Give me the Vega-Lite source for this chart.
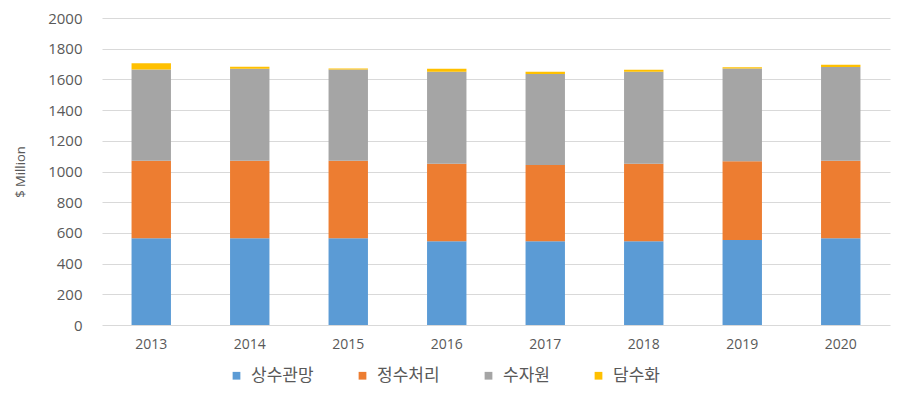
{
  "$schema": "https://vega.github.io/schema/vega-lite/v6.json",
  "autosize": {"type": "none"},
  "padding": {"left": 102, "top": 18, "right": 14, "bottom": 75},
  "width": 788,
  "height": 307,
  "background": "white",
  "config": {
    "view": {"stroke": null},
    "font": "Open Sans"
  },
  "data": {
    "values": [
      {"year": "2013", "cat": "상수관망", "order": 1, "value": 565},
      {"year": "2013", "cat": "정수처리", "order": 2, "value": 505},
      {"year": "2013", "cat": "수자원", "order": 3, "value": 595},
      {"year": "2013", "cat": "담수화", "order": 4, "value": 40},
      {"year": "2014", "cat": "상수관망", "order": 1, "value": 565},
      {"year": "2014", "cat": "정수처리", "order": 2, "value": 505},
      {"year": "2014", "cat": "수자원", "order": 3, "value": 600},
      {"year": "2014", "cat": "담수화", "order": 4, "value": 12},
      {"year": "2015", "cat": "상수관망", "order": 1, "value": 565},
      {"year": "2015", "cat": "정수처리", "order": 2, "value": 505},
      {"year": "2015", "cat": "수자원", "order": 3, "value": 595},
      {"year": "2015", "cat": "담수화", "order": 4, "value": 6},
      {"year": "2016", "cat": "상수관망", "order": 1, "value": 545},
      {"year": "2016", "cat": "정수처리", "order": 2, "value": 505},
      {"year": "2016", "cat": "수자원", "order": 3, "value": 600},
      {"year": "2016", "cat": "담수화", "order": 4, "value": 20},
      {"year": "2017", "cat": "상수관망", "order": 1, "value": 545},
      {"year": "2017", "cat": "정수처리", "order": 2, "value": 497},
      {"year": "2017", "cat": "수자원", "order": 3, "value": 593},
      {"year": "2017", "cat": "담수화", "order": 4, "value": 15},
      {"year": "2018", "cat": "상수관망", "order": 1, "value": 545},
      {"year": "2018", "cat": "정수처리", "order": 2, "value": 505},
      {"year": "2018", "cat": "수자원", "order": 3, "value": 600},
      {"year": "2018", "cat": "담수화", "order": 4, "value": 13},
      {"year": "2019", "cat": "상수관망", "order": 1, "value": 553},
      {"year": "2019", "cat": "정수처리", "order": 2, "value": 513},
      {"year": "2019", "cat": "수자원", "order": 3, "value": 605},
      {"year": "2019", "cat": "담수화", "order": 4, "value": 8},
      {"year": "2020", "cat": "상수관망", "order": 1, "value": 565},
      {"year": "2020", "cat": "정수처리", "order": 2, "value": 505},
      {"year": "2020", "cat": "수자원", "order": 3, "value": 610},
      {"year": "2020", "cat": "담수화", "order": 4, "value": 15}
    ]
  },
  "mark": {"type": "bar"},
  "encoding": {
    "x": {
      "field": "year",
      "type": "ordinal",
      "scale": {"paddingInner": 0.6, "paddingOuter": 0.3},
      "axis": {
        "title": null,
        "labelAngle": 0,
        "domain": false,
        "ticks": false,
        "labelPadding": 12,
        "labelFontSize": 14,
        "labelColor": "#595959",
        "labelFont": "Open Sans"
      }
    },
    "y": {
      "field": "value",
      "type": "quantitative",
      "stack": "zero",
      "scale": {"domain": [0, 2000], "nice": false},
      "axis": {
        "title": "$ Million",
        "titleFontSize": 13,
        "titleFontWeight": "normal",
        "titleColor": "#595959",
        "titleFont": "Open Sans",
        "titlePadding": 20,
        "format": "d",
        "values": [0, 200, 400, 600, 800, 1000, 1200, 1400, 1600, 1800, 2000],
        "domain": false,
        "ticks": false,
        "labelPadding": 20,
        "labelFontSize": 15,
        "labelColor": "#595959",
        "labelFont": "Open Sans",
        "gridColor": "#D9D9D9",
        "gridWidth": 1
      }
    },
    "color": {
      "field": "cat",
      "type": "nominal",
      "sort": ["상수관망", "정수처리", "수자원", "담수화"],
      "scale": {
        "domain": ["상수관망", "정수처리", "수자원", "담수화"],
        "range": ["#5B9BD5", "#ED7D31", "#A5A5A5", "#FFC000"]
      },
      "legend": {
        "title": null,
        "orient": "none",
        "direction": "horizontal",
        "legendX": 126,
        "legendY": 349,
        "symbolType": "square",
        "symbolSize": 60,
        "symbolStrokeWidth": 0,
        "labelFontSize": 17,
        "labelFont": "Noto Sans CJK KR",
        "labelColor": "#595959",
        "columnPadding": 40,
        "labelOffset": 6
      }
    },
    "order": {"field": "order", "type": "quantitative"}
  }
}
